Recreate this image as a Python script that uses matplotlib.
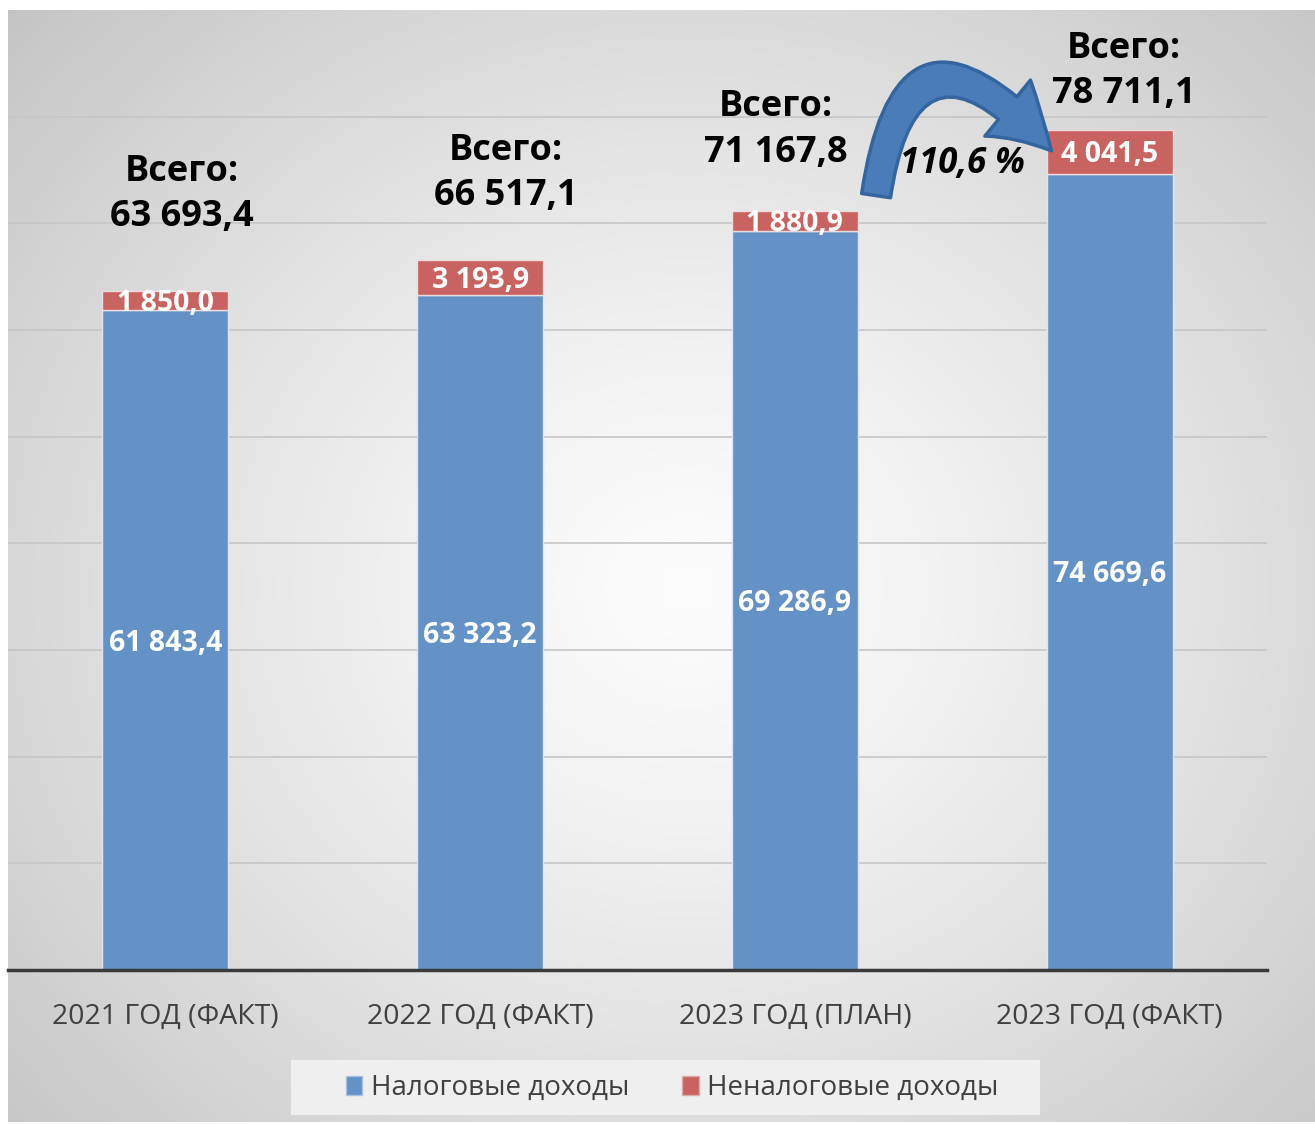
import numpy as np
import matplotlib
matplotlib.use("Agg")
import matplotlib.pyplot as plt
from matplotlib.patches import FancyArrowPatch, Patch, Rectangle
from matplotlib.path import Path

plt.rcParams['font.family'] = ['Open Sans', 'DejaVu Sans']

categories = ['2021 ГОД (ФАКТ)', '2022 ГОД (ФАКТ)', '2023 ГОД (ПЛАН)', '2023 ГОД (ФАКТ)']
tax = [61843.4, 63323.2, 69286.9, 74669.6]
nontax = [1850.0, 3193.9, 1880.9, 4041.5]
totals = [63693.4, 66517.1, 71167.8, 78711.1]
growth_label = '110,6 %'
series_names = ['Налоговые доходы', 'Неналоговые доходы']

# hand placed total labels (pixel offsets from bar top)
total_offsets = [(17, 96), (26, 87), (-19, 81), (14, 59)]

blue = '#6592c6'
red = '#c86362'


def fmt(v):
    s = f'{v:,.1f}'
    return s.replace(',', ' ').replace('.', ',')


W, H = 1315, 1124
fig = plt.figure(figsize=(W / 100, H / 100), dpi=100)

# gradient background panel
bg = fig.add_axes([8 / W, 2 / H, 1 - 8 / W, 1112 / H])
yy, xx = np.mgrid[0:1:400j, 0:1:470j]
r = np.sqrt(((xx - 0.52) / 0.75) ** 2 + ((yy - 0.52) / 0.8) ** 2)
r = np.clip(r / 0.95, 0, 1) ** 1.3
g = 0.99 - r * (0.99 - 0.77)
bg.imshow(np.dstack([g, g, g]), aspect='auto', extent=[0, 1, 0, 1], zorder=0)
bg.axis('off')

ax = fig.add_axes([8 / W, (H - 970) / H, 1259 / W, 960 / H])
ax.patch.set_alpha(0)
x = np.arange(len(categories))
w = 0.4
ax.bar(x, tax, w, color=blue, edgecolor='#dbe4f0', linewidth=1, zorder=3)
ax.bar(x, nontax, w, bottom=tax, color=red, edgecolor='#f0dcdc', linewidth=1, zorder=3)

ax.set_xlim(-0.5, 3.5)
ax.set_ylim(0, 90000)
ax.set_yticks(np.arange(10000, 90000, 10000))
ax.yaxis.grid(True, color='#c6c6c6', linewidth=1.2)
ax.set_axisbelow(True)
ax.tick_params(axis='y', left=False, labelleft=False)
ax.tick_params(axis='x', bottom=False, labelsize=20.5, labelcolor='#404040', pad=20)
ax.set_xticks(x)
ax.set_xticklabels(categories)
for s in ['top', 'right', 'left']:
    ax.spines[s].set_visible(False)
ax.spines['bottom'].set_color('#3a3a3a')
ax.spines['bottom'].set_linewidth(2.5)
ax.spines['bottom'].set_zorder(5)

for i in range(len(categories)):
    ax.annotate(fmt(tax[i]), xy=(x[i], tax[i] / 2), xytext=(0, -3),
                textcoords='offset pixels', ha='center', va='center',
                color='white', fontsize=20.5, fontweight='bold', zorder=4)
    ax.annotate(fmt(nontax[i]), xy=(x[i], tax[i] + nontax[i] / 2), xytext=(0, -3),
                textcoords='offset pixels', ha='center', va='center',
                color='white', fontsize=20.5, fontweight='bold', zorder=4)
    dx, dy = total_offsets[i]
    ax.annotate('Всего:\n' + fmt(totals[i]), xy=(x[i], totals[i]),
                xytext=(dx, dy), textcoords='offset pixels', ha='center', va='center',
                fontsize=26, fontweight='bold', color='black', linespacing=1.35,
                annotation_clip=False, zorder=6)

# growth arrow from plan to fact (quadratic bezier in data units)
arc = Path([(2.258, 72600), (2.356, 92000), (2.815, 76800)],
           [Path.MOVETO, Path.CURVE3, Path.CURVE3])
arrow = FancyArrowPatch(path=arc,
                        arrowstyle='simple,head_length=44,head_width=52,tail_width=21',
                        mutation_scale=1, facecolor='#4a7cb9', edgecolor='#34659e',
                        linewidth=2.5, zorder=6, clip_on=False)
ax.add_patch(arrow)
ax.text(2.531, 75600, growth_label, ha='center', va='center', fontsize=25,
        fontweight='bold', fontstyle='italic', color='black', zorder=6)

# legend box
fig.patches.append(Rectangle((291 / W, (H - 1115) / H), 749 / W, 55 / H,
                             transform=fig.transFigure, facecolor='#efefef',
                             edgecolor='none', zorder=1))
handles = [Patch(facecolor=blue, edgecolor='#a8c0e0'),
           Patch(facecolor=red, edgecolor='#e0a8a8')]
leg = fig.legend(handles, series_names, loc='center', bbox_to_anchor=(672 / W, (H - 1088) / H),
                 ncol=2, fontsize=20, frameon=False, handlelength=0.6,
                 handleheight=0.7, handletextpad=0.3, columnspacing=1.9,
                 borderpad=0, borderaxespad=0, labelcolor='#404040')

fig.savefig('out.png', dpi=100)
